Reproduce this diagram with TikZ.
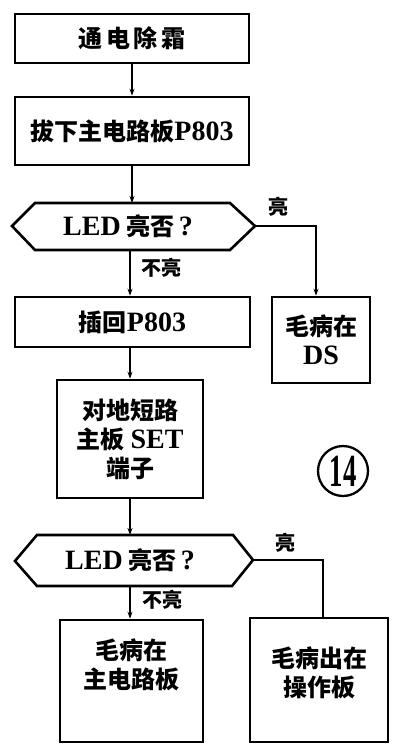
\documentclass[tikz,border=0pt]{standalone}
\usepackage{fontspec}
\setmainfont{Liberation Serif}
\newfontfamily\cjk{Noto Sans CJK SC}
\newfontfamily\cjkw{Noto Sans CJK SC}[LetterSpace=15]
\usetikzlibrary{arrows.meta}
\newcommand\C[1]{{\cjk #1}}
\newcommand\Lt[1]{{\fontsize{28}{28}\selectfont #1}}
\begin{document}
\begin{tikzpicture}[x=1pt,y=-1pt,
  font=\bfseries\fontsize{24}{29}\selectfont,
  box/.style={draw, line width=2.6pt, inner sep=0pt},
  conn/.style={line width=2pt, -{Stealth[length=7pt,width=5pt]}},
  plain/.style={line width=2pt},
  hexa/.style={line width=2.6pt, line join=miter},
  lbl/.style={font=\bfseries\fontsize{20}{22}\selectfont, inner sep=0pt}]
\useasboundingbox (0,0) rectangle (410,756);

% boxes
\node[box, minimum width=234pt, minimum height=49pt] (b1) at (132,38.5) {\cjkw 通电除霜};
\node[box, minimum width=234pt, minimum height=68pt] (b2) at (132,131) {\C{拔下主电路板}\Lt{P803}};
\node[box, minimum width=235pt, minimum height=50pt] (b3) at (132.5,322) {\C{插回}\Lt{P803}};
\node[box, minimum width=98pt, minimum height=86pt, align=center] (ds) at (321,340) {\C{毛病在}\\\Lt{DS}};
\node[box, minimum width=146pt, minimum height=118pt, align=center] (b4) at (130,439) {\C{对地短路}\\\C{主板} \Lt{SET}\\\C{端子}};
\node[box, minimum width=143pt, minimum height=122pt,
  label={[align=center, yshift=16pt]center:\C{毛病在}\\\C{主电路板}}] (b5) at (131.5,681) {};
\node[box, minimum width=138pt, minimum height=124pt,
  label={[align=center, yshift=7pt]center:\C{毛病出在}\\\C{操作板}}] (b6) at (319,680) {};

% decision 1
\coordinate (d1l) at (12,226);
\coordinate (d1r) at (255,226);
\coordinate (d1t) at (132,203);
\coordinate (d1b) at (130,250);
\draw[hexa] (d1l) -- (35,203) -- (230,203) -- (d1r) -- (230,250) -- (35,250) -- cycle;
\node (d1) at (128,226) {\Lt{LED} \C{亮否}\,\Lt{?}};

% decision 2
\coordinate (d2l) at (15,561);
\coordinate (d2r) at (253,560);
\coordinate (d2t) at (130,535);
\coordinate (d2b) at (130,586);
\draw[hexa] (d2l) -- (37,535) -- (233,535) -- (d2r) -- (232,586) -- (37,586) -- cycle;
\node (d2) at (130,560) {\Lt{LED} \C{亮否}\,\Lt{?}};

% circled number
\node[draw, circle, line width=2.3pt, minimum size=50pt, inner sep=0pt] (c14) at (343,471)
  {\fontsize{46}{46}\selectfont\scalebox{0.58}[1]{14}};

% connectors
\draw[conn] (b1.south) -- (b2.north);
\draw[conn] (b2.south) -- (d1t);
\draw[conn] (d1r) -| ([xshift=-5pt]ds.north);
\draw[conn] (d1b) -- (d1b |- b3.north);
\draw[conn] (b4.north |- b3.south) -- (b4.north);
\draw[conn] (b4.south) -- (d2t);
\draw[plain] (d2r) -| ([xshift=4pt]b6.north);
\draw[conn] (d2b) -- (d2b |- b5.north);

% labels
\node[lbl] (l1) at (278,207) {\C{亮}};
\node[lbl] (l2) at (161,268) {\C{不亮}};
\node[lbl] (l3) at (285,543) {\C{亮}};
\node[lbl] (l4) at (162,600) {\C{不亮}};
\end{tikzpicture}
\end{document}
